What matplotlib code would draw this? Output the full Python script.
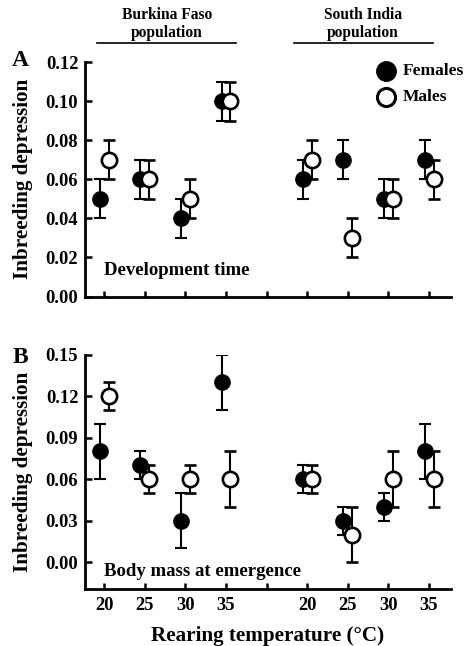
import matplotlib
matplotlib.use('Agg')
import matplotlib.pyplot as plt
import numpy as np

plt.rcParams['font.family'] = 'Liberation Serif'
plt.rcParams['font.weight'] = 'bold'

temps = ['20', '25', '30', '35', '', '20', '25', '30', '35']
positions = [1, 2, 3, 4, 6, 7, 8, 9]

# development time (panel A)
dev_fem = [0.05, 0.06, 0.04, 0.10, 0.06, 0.07, 0.05, 0.07]
dev_fem_err = [0.01, 0.01, 0.01, 0.01, 0.01, 0.01, 0.01, 0.01]
dev_male = [0.07, 0.06, 0.05, 0.10, 0.07, 0.03, 0.05, 0.06]
dev_male_err = [0.01, 0.01, 0.01, 0.01, 0.01, 0.01, 0.01, 0.01]

# body mass at emergence (panel B)
mass_fem = [0.08, 0.07, 0.03, 0.13, 0.06, 0.03, 0.04, 0.08]
mass_fem_err = [0.02, 0.01, 0.02, 0.02, 0.01, 0.01, 0.01, 0.02]
mass_male = [0.12, 0.06, 0.06, 0.06, 0.06, 0.02, 0.06, 0.06]
mass_male_err = [0.01, 0.01, 0.01, 0.02, 0.01, 0.02, 0.02, 0.02]

fig = plt.figure(figsize=(4.65, 6.46), dpi=100)
ax_a = fig.add_axes([0.183, 0.541, 0.786, 0.363])
ax_b = fig.add_axes([0.183, 0.088, 0.786, 0.363])

off = 0.11
x = np.array(positions, dtype=float)


def draw(ax, fem, fem_err, male, male_err):
    ax.errorbar(x - off, fem, yerr=fem_err, fmt='o', color='black', ms=11,
                mfc='black', mec='black', ecolor='black', elinewidth=1.5,
                capsize=4.3, capthick=1.5, zorder=3)
    ax.errorbar(x + off, male, yerr=male_err, fmt='o', color='black', ms=11,
                mfc='white', mec='black', mew=1.9, ecolor='black', elinewidth=1.5,
                capsize=4.3, capthick=1.5, zorder=4)
    ax.set_xlim(0.53, 9.53)
    ax.set_xticks(range(1, 10))
    ax.spines['top'].set_visible(False)
    ax.spines['right'].set_visible(False)
    ax.spines['left'].set_linewidth(2)
    ax.spines['bottom'].set_linewidth(2)
    ax.tick_params(axis='both', direction='in', width=1.8, labelsize=13.3)
    ax.tick_params(axis='y', length=5, pad=5)
    ax.tick_params(axis='x', length=4, pad=6)
    ax.set_ylabel('Inbreeding depression', fontsize=15.2, fontweight='bold')
    ax.yaxis.set_label_coords(-0.143, 0.5)


draw(ax_a, dev_fem, dev_fem_err, dev_male, dev_male_err)
ax_a.set_ylim(0, 0.12)
ax_a.set_yticks(np.arange(0, 0.121, 0.02))
ax_a.set_yticklabels([f'{v:.2f}' for v in np.arange(0, 0.121, 0.02)])
ax_a.set_xticklabels([])
ax_a.text(1.0, 0.011, 'Development time', fontsize=13.5, fontweight='bold')

draw(ax_b, mass_fem, mass_fem_err, mass_male, mass_male_err)
ax_b.set_ylim(-0.0195, 0.15)
ax_b.spines['left'].set_bounds(-0.0195, 0.15)
ax_b.set_yticks(np.arange(0, 0.151, 0.03))
ax_b.set_yticklabels([f'{v:.2f}' for v in np.arange(0, 0.151, 0.03)])
ax_b.set_xticklabels(temps)
ax_b.text(1.0, -0.01, 'Body mass at emergence', fontsize=13.5, fontweight='bold')
ax_b.set_xlabel('Rearing temperature (\u00b0C)', fontsize=15.2, fontweight='bold', labelpad=8)

# legend
ax_a.plot([7.95], [0.1155], 'o', ms=14, color='black', clip_on=False)
ax_a.plot([7.95], [0.1020], 'o', ms=13, mfc='white', mec='black', mew=2.2, clip_on=False)
ax_a.text(8.35, 0.1155, 'Females', fontsize=12.5, fontweight='bold', va='center')
ax_a.text(8.35, 0.1020, 'Males', fontsize=12.5, fontweight='bold', va='center')

# population headers
fig.text(167 / 465, 1 - 15 / 646, 'Burkina Faso', ha='center', va='center', fontsize=11.2, fontweight='bold')
fig.text(167 / 465, 1 - 33 / 646, 'population', ha='center', va='center', fontsize=11.2, fontweight='bold')
fig.text(363 / 465, 1 - 15 / 646, 'South India', ha='center', va='center', fontsize=11.2, fontweight='bold')
fig.text(363 / 465, 1 - 33 / 646, 'population', ha='center', va='center', fontsize=11.2, fontweight='bold')
fig.add_artist(plt.Line2D([97 / 465, 236 / 465], [1 - 43 / 646, 1 - 43 / 646], color='black', lw=1.2))
fig.add_artist(plt.Line2D([294 / 465, 433 / 465], [1 - 43 / 646, 1 - 43 / 646], color='black', lw=1.2))

fig.text(20 / 465, 1 - 60 / 646, 'A', ha='center', va='center', fontsize=17, fontweight='bold')
fig.text(20 / 465, 1 - 357 / 646, 'B', ha='center', va='center', fontsize=17, fontweight='bold')

fig.savefig('out.png', dpi=100)
